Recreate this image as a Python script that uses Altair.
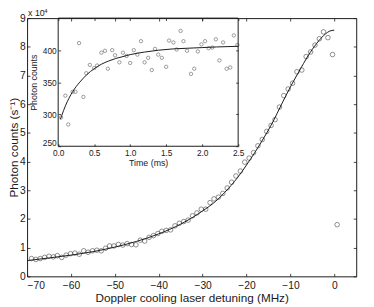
import altair as alt
import pandas as pd

# ---------------- data (main plot, counts in units of 10^4 s^-1) ----------------
main_detuning = [-69.0, -68.0, -67.0, -66.0, -65.0, -64.0, -63.1, -62.1, -61.1, -60.1,
                 -59.1, -58.1, -57.1, -56.1, -55.1, -54.1, -53.1, -52.1, -51.2, -50.2,
                 -49.2, -48.2, -47.2, -46.2, -45.2, -44.2, -43.2, -42.2, -41.2, -40.2,
                 -39.3, -38.3, -37.3, -36.3, -35.3, -34.3, -33.3, -32.3, -31.3, -30.3,
                 -29.3, -28.3, -27.4, -26.4, -25.4, -24.4, -23.4, -22.4, -21.4, -20.4,
                 -19.4, -18.4, -17.4, -16.4, -15.4, -14.4, -13.5, -12.5, -11.5, -10.5,
                 -9.5, -8.5, -7.4, -6.4, -5.4, -4.4, -3.4, -2.45, -1.45, -0.4, 0.65]
main_counts = [0.62, 0.59, 0.62, 0.66, 0.70, 0.68, 0.72, 0.66, 0.74, 0.79,
               0.81, 0.77, 0.89, 0.84, 0.89, 0.91, 0.89, 0.98, 1.06, 1.06,
               1.11, 1.09, 1.14, 1.11, 1.10, 1.26, 1.23, 1.36, 1.42, 1.49,
               1.57, 1.60, 1.62, 1.76, 1.85, 1.91, 1.96, 2.11, 2.21, 2.34,
               2.34, 2.57, 2.70, 2.76, 2.89, 3.08, 3.28, 3.50, 3.67, 3.98,
               4.12, 4.31, 4.55, 4.77, 5.05, 5.26, 5.46, 5.90, 6.30, 6.53,
               6.73, 7.13, 7.19, 7.66, 7.82, 8.06, 8.28, 8.52, 8.32, 7.73, 1.80]

fit_detuning = [-70, -65, -60, -55, -50, -45, -40, -35, -30, -27, -25, -22, -20,
                -18, -16, -14, -12, -10, -8, -6, -4, -2, -1, 0]
fit_counts = [0.55, 0.64, 0.74, 0.86, 1.02, 1.22, 1.48, 1.82, 2.28, 2.62, 2.92, 3.45, 3.88,
              4.34, 4.84, 5.38, 6.0, 6.6, 7.15, 7.68, 8.12, 8.45, 8.55, 8.58]

# ---------------- data (inset) ----------------
inset_time = [0.04, 0.10, 0.14, 0.20, 0.24, 0.29, 0.35, 0.39, 0.44, 0.50,
              0.54, 0.60, 0.65, 0.69, 0.75, 0.79, 0.85, 0.90, 0.95, 1.00,
              1.05, 1.10, 1.15, 1.20, 1.25, 1.30, 1.345, 1.39, 1.44, 1.50,
              1.54, 1.60, 1.645, 1.70, 1.74, 1.79, 1.845, 1.89, 1.94, 1.99,
              2.04, 2.09, 2.14, 2.19, 2.24, 2.29, 2.34, 2.39, 2.44, 2.49]
inset_counts = [295, 329, 284, 335, 335, 411, 327, 364, 377, 372,
                376, 396, 399, 371, 400, 392, 381, 396, 391, 380,
                400, 393, 414, 381, 388, 369, 402, 393, 388, 374,
                415, 412, 401, 430, 414, 399, 363, 371, 398, 409,
                414, 403, 404, 417, 384, 412, 371, 373, 423, 408]

inset_fit_time = [0.03, 0.05, 0.1, 0.15, 0.2, 0.3, 0.4, 0.5, 0.6, 0.7, 0.8, 0.9,
                  1.0, 1.2, 1.4, 1.6, 1.8, 2.0, 2.2, 2.5]
inset_fit_counts = [292, 298, 313, 325, 335, 350, 362, 371, 378, 383, 387, 390,
                    393, 397, 400, 402, 403, 404, 405, 406]

main_x_ticks = [-70, -60, -50, -40, -30, -20, -10, 0]
main_y_ticks = [0, 1, 2, 3, 4, 5, 6, 7, 8, 9]
main_x_domain = [-70, 5]
main_y_domain = [0, 9]
inset_x_ticks = [0, 0.5, 1, 1.5, 2, 2.5]
inset_y_ticks = [250, 300, 350, 400]
inset_x_domain = [0, 2.5]
inset_y_domain = [250, 450]

# ---------------- layout ----------------
W, H = 336.5, 264
IX0, IX1 = 31.8, 215.8      # inset left/right inside the view
IY1 = 131                   # inset bottom inside the view
FONT = "Liberation Sans"
INK = "#1a1a1a"

main_df = pd.DataFrame({"detuning": main_detuning, "counts": main_counts})
fit_df = pd.DataFrame({"detuning": fit_detuning, "counts": fit_counts})
inset_df = pd.DataFrame({"time": inset_time, "counts": inset_counts})
inset_fit_df = pd.DataFrame({"time": inset_fit_time, "counts": inset_fit_counts})
box_df = pd.DataFrame({"t0": [inset_x_domain[0]], "t1": [inset_x_domain[1]],
                       "c0": [inset_y_domain[0]], "c1": [inset_y_domain[1]]})


def mx():
    return alt.Scale(domain=main_x_domain, nice=False, zero=False)


def my():
    return alt.Scale(domain=main_y_domain, nice=False, zero=False)


def ix():
    return alt.Scale(domain=inset_x_domain, range=[IX0, IX1], nice=False, zero=False)


def iy():
    return alt.Scale(domain=inset_y_domain, range=[IY1, 0], nice=False, zero=False)


def tick_axis(orient, offset, values, size=3):
    return alt.Axis(orient=orient, offset=offset, values=values, labels=False,
                    domain=False, ticks=True, tickSize=size, tickColor=INK,
                    tickWidth=0.8, title=None, grid=False)


# ---------------- main plot ----------------
main_points = alt.Chart(main_df).mark_point(
    shape="circle", filled=False, size=22, stroke=INK, strokeWidth=0.7
).encode(
    x=alt.X("detuning:Q", scale=mx(), axis=alt.Axis(
        orient="bottom", values=main_x_ticks, domain=False, ticks=False, tickSize=0,
        labelPadding=4, labelFontSize=10.5, labelFont=FONT, labelColor=INK,
        title="Doppler cooling laser detuning (MHz)", titleFontSize=12,
        titleFont=FONT, titleFontWeight="normal", titleColor=INK, titlePadding=2,
        grid=False)),
    y=alt.Y("counts:Q", scale=my(), axis=alt.Axis(
        orient="left", values=main_y_ticks, domain=False, ticks=False, tickSize=0,
        labelPadding=2, labelFontSize=10.5, labelFont=FONT, labelColor=INK,
        title="Photon counts (s⁻¹)", titleFontSize=12, titleFont=FONT,
        titleFontWeight="normal", titleColor=INK, titlePadding=-1.5, grid=False)),
)

main_fit = alt.Chart(fit_df).mark_line(
    color=INK, strokeWidth=1, interpolate="monotone"
).encode(
    x=alt.X("detuning:Q", scale=mx(), axis=tick_axis("top", -H, main_x_ticks)),
    y=alt.Y("counts:Q", scale=my(), axis=tick_axis("right", -W, main_y_ticks)),
)

main_ticks2 = alt.Chart(fit_df).mark_line(opacity=0).encode(
    x=alt.X("detuning:Q", scale=mx(), axis=tick_axis("bottom", -H, main_x_ticks)),
    y=alt.Y("counts:Q", scale=my(), axis=tick_axis("left", -W, main_y_ticks)),
)

# ---------------- inset ----------------
inset_box = alt.Chart(box_df).mark_rect(
    fill="white", fillOpacity=0, stroke=INK, strokeWidth=1
).encode(
    x=alt.X("t0:Q", scale=ix(), axis=None),
    x2="t1:Q",
    y=alt.Y("c0:Q", scale=iy(), axis=None),
    y2="c1:Q",
)

inset_points = alt.Chart(inset_df).mark_point(
    shape="circle", filled=False, size=12, stroke=INK, strokeWidth=0.6
).encode(
    x=alt.X("time:Q", scale=ix(), axis=alt.Axis(
        orient="bottom", offset=-(H - IY1), values=inset_x_ticks, domain=False,
        ticks=False, tickSize=0, labelPadding=2, labelFontSize=8.5, labelFont=FONT,
        labelColor=INK, title="Time (ms)", titleFontSize=9, titleFont=FONT,
        titleFontWeight="normal", titleColor=INK, titlePadding=2, grid=False,
        labelFlush=False)),
    y=alt.Y("counts:Q", scale=iy(), axis=alt.Axis(
        orient="left", offset=-IX0, values=inset_y_ticks, domain=False, ticks=False,
        tickSize=0, labelPadding=2, labelFontSize=8.5, labelFont=FONT, labelColor=INK,
        labelFlush=True, labelFlushOffset=1,
        title="Photon counts", titleFontSize=9, titleFont=FONT,
        titleFontWeight="normal", titleColor=INK, titlePadding=4, grid=False)),
)

inset_fit = alt.Chart(inset_fit_df).mark_line(
    color=INK, strokeWidth=1, interpolate="monotone"
).encode(
    x=alt.X("time:Q", scale=ix(), axis=tick_axis("top", -IY1, inset_x_ticks, 2.5)),
    y=alt.Y("counts:Q", scale=iy(), axis=tick_axis("right", -(W - IX0), inset_y_ticks, 2.5)),
)

inset_ticks2 = alt.Chart(inset_fit_df).mark_line(opacity=0).encode(
    x=alt.X("time:Q", scale=ix(), axis=tick_axis("bottom", -H, inset_x_ticks, 2.5)),
    y=alt.Y("counts:Q", scale=iy(), axis=tick_axis("left", -IX1, inset_y_ticks, 2.5)),
)

# ---------------- exponent annotation ----------------
exp_base = alt.Chart(pd.DataFrame({"t": ["x 10"]})).mark_text(
    align="left", baseline="alphabetic", fontSize=9, font=FONT, color=INK
).encode(text="t:N", x=alt.value(1), y=alt.value(-2))
exp_pow = alt.Chart(pd.DataFrame({"t": ["4"]})).mark_text(
    align="left", baseline="alphabetic", fontSize=6, font=FONT, color=INK
).encode(text="t:N", x=alt.value(17.5), y=alt.value(-5.5))

chart = alt.layer(
    main_points, main_fit, main_ticks2,
    inset_box, inset_points, inset_fit, inset_ticks2,
    exp_base, exp_pow,
).resolve_scale(
    x="independent", y="independent"
).resolve_axis(
    x="independent", y="independent"
).properties(
    width=W, height=H,
    padding={"left": 19.5, "top": 7, "right": 10, "bottom": 28},
    autosize=alt.AutoSizeParams(type="none"),
    background="white",
).configure_view(
    stroke=INK, strokeWidth=1
)

chart.save("out.html", embed_options={"renderer": "svg", "actions": False})
